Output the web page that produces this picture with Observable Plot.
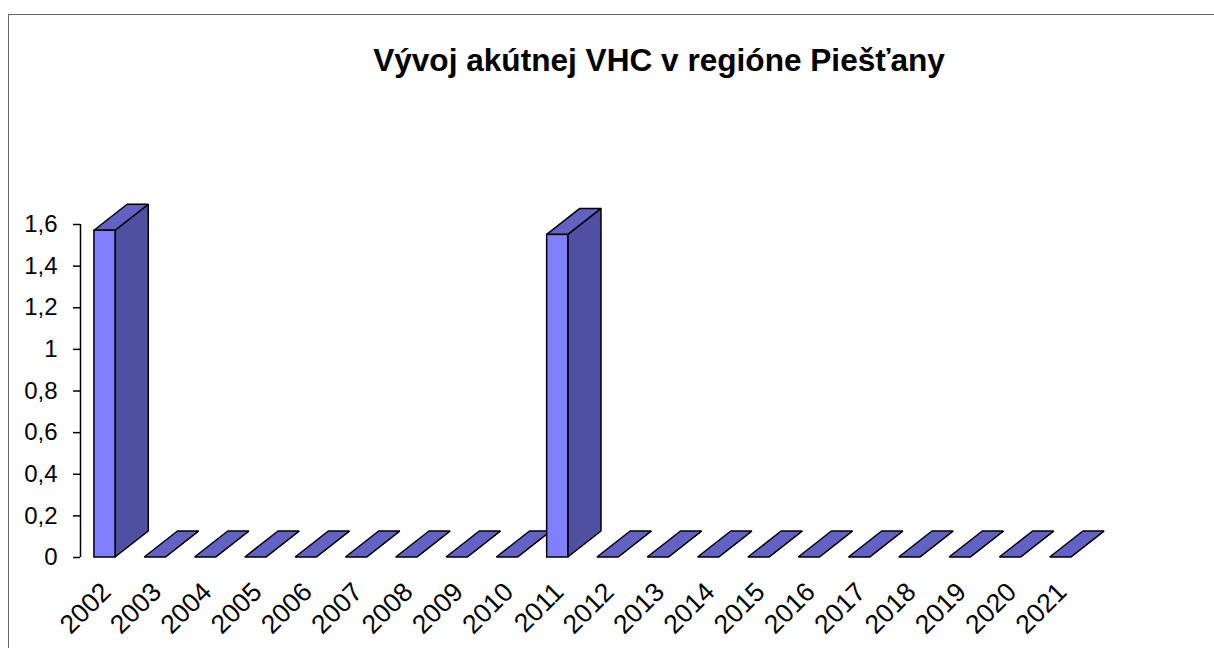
<!DOCTYPE html>
<html>
<head>
<meta charset="utf-8">
<script src="https://cdn.jsdelivr.net/npm/d3@7"></script>
<script src="https://cdn.jsdelivr.net/npm/@observablehq/plot@0.6"></script>
<style>
  html, body { margin: 0; padding: 0; background: #fff; }
  body { font-family: "Liberation Sans", Arial, sans-serif; color: #000; }
  #wrap { position: relative; width: 1214px; height: 648px; overflow: hidden; }
  #border { position: absolute; left: 8px; top: 14px; width: 1300px; height: 700px; border: 1px solid #666; box-sizing: border-box; }
  #title { position: absolute; left: 659px; top: 45px; transform: translateX(-50%); white-space: nowrap;
           font-size: 31.6px; line-height: 31px; font-weight: bold; }
  #chart { position: absolute; left: 0; top: 0; }
</style>
</head>
<body>
<div id="wrap">
  <div id="border"></div>
  <div id="chart"></div>
  <div id="title">Vývoj akútnej VHC v regióne Piešťany</div>
</div>
<script>
// ---- data ----
const years = ["2002","2003","2004","2005","2006","2007","2008","2009","2010","2011",
               "2012","2013","2014","2015","2016","2017","2018","2019","2020","2021"];
const values = [1.57, 0, 0, 0, 0, 0, 0, 0, 0, 1.55, 0, 0, 0, 0, 0, 0, 0, 0, 0, 0];
const yTicks = [0, 0.2, 0.4, 0.6, 0.8, 1, 1.2, 1.4, 1.6];
const yTickLabels = ["0", "0,2", "0,4", "0,6", "0,8", "1", "1,2", "1,4", "1,6"];

// ---- 3D bar geometry (in data units) ----
const hw = 0.21;     // half width of the front face
const ddx = 0.66;    // depth offset along x
const ddy = 0.125;   // depth offset along y
const xDomain = [-0.487, 19.79];

const rows = years.map((year, i) => ({i, year, v: values[i]}));
const sidePts = rows.flatMap(d => [
  {i: d.i, x: d.i + hw, y1: 0, y2: d.v},
  {i: d.i, x: d.i + hw + ddx, y1: ddy, y2: d.v + ddy}
]);
const topPts = rows.flatMap(d => [
  {i: d.i, y: d.v, x1: d.i - hw, x2: d.i + hw},
  {i: d.i, y: d.v + ddy, x1: d.i - hw + ddx, x2: d.i + hw + ddx}
]);

const chart = Plot.plot({
  width: 1214,
  height: 648,
  marginLeft: 80,
  marginRight: 114,
  marginTop: 224,
  marginBottom: 91,
  style: {fontFamily: '"Liberation Sans", Arial, sans-serif', background: "transparent", color: "#000"},
  x: {type: "linear", domain: xDomain, axis: null},
  y: {domain: [0, 1.6]},
  marks: [
    Plot.ruleX([xDomain[0]], {y1: 0, y2: 1.6, stroke: "#000", strokeWidth: 1.5}),
    Plot.axisY({
      ticks: yTicks,
      tickFormat: d => yTickLabels[yTicks.indexOf(d)],
      tickSize: 7,
      tickPadding: 16,
      fontSize: 24,
      strokeWidth: 1.5,
      label: null
    }),
    Plot.areaY(sidePts, {x: "x", y1: "y1", y2: "y2", z: "i", fill: "#5050A3", stroke: "#000", strokeWidth: 1.5, strokeLinejoin: "miter"}),
    Plot.areaX(topPts, {y: "y", x1: "x1", x2: "x2", z: "i", fill: "#6262C4", stroke: "#000", strokeWidth: 1.5, strokeLinejoin: "miter"}),
    Plot.rect(rows, {x1: d => d.i - hw, x2: d => d.i + hw, y1: 0, y2: "v", fill: "#8080FF", stroke: "#000", strokeWidth: 1.5}),
    Plot.text(rows, {
      x: "i", y: 0, text: "year",
      rotate: -45, textAnchor: "end", lineAnchor: "bottom",
      dx: 7.5, dy: 36, fontSize: 26.5, fill: "#000"
    })
  ]
});
document.getElementById("chart").appendChild(chart);
</script>
</body>
</html>
